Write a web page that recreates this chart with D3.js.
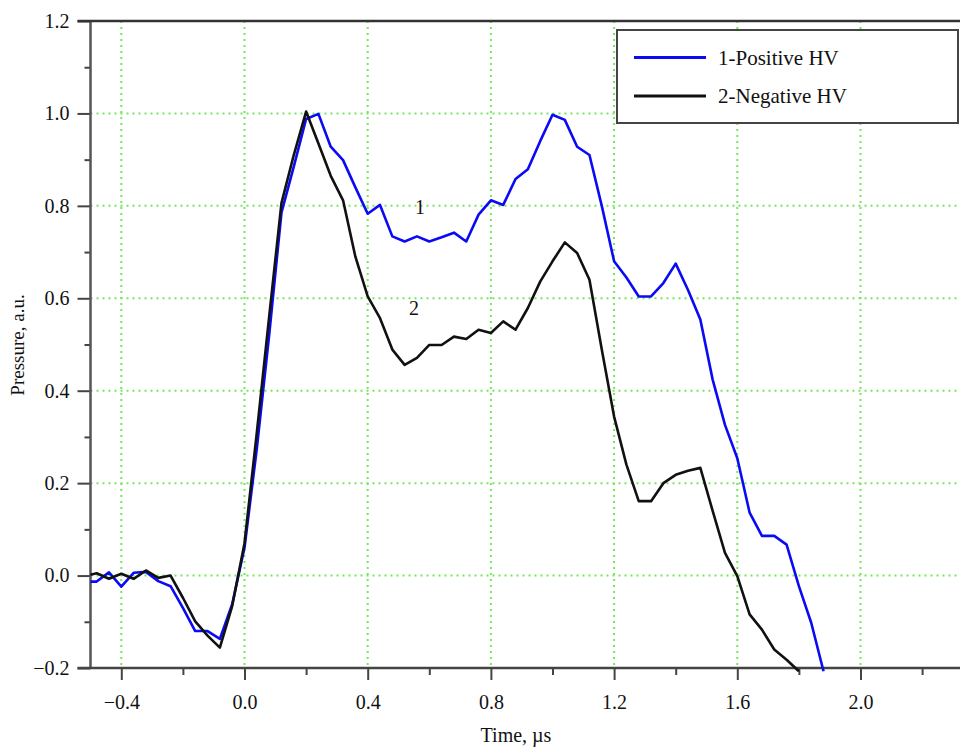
<!DOCTYPE html>
<html>
<head>
<meta charset="utf-8">
<script src="https://cdn.jsdelivr.net/npm/d3@7/dist/d3.min.js"></script>
<style>
  html, body { margin: 0; padding: 0; background: #fff; }
  svg { display: block; }
  text { font-family: "Liberation Serif", "Times New Roman", serif; fill: #111; }
</style>
</head>
<body>
<svg id="chart" width="960" height="747"></svg>
<script>
// Sample times (µs)
const time = [
  -0.50, -0.48, -0.44, -0.40, -0.36, -0.32, -0.28, -0.24, -0.20, -0.16,
  -0.12, -0.08, -0.04, 0.00, 0.04, 0.08, 0.12, 0.16, 0.20, 0.24,
  0.28, 0.32, 0.36, 0.40, 0.44, 0.48, 0.52, 0.56, 0.60, 0.64,
  0.68, 0.72, 0.76, 0.80, 0.84, 0.88, 0.92, 0.96, 1.00, 1.04,
  1.08, 1.12, 1.16, 1.20, 1.24, 1.28, 1.32, 1.36, 1.40, 1.44,
  1.48, 1.52, 1.56, 1.60, 1.64, 1.68, 1.72, 1.76, 1.80, 1.84, 1.88
];

// 1 - Positive HV
const positiveHV = [
  -0.013, -0.013, 0.007, -0.024, 0.006, 0.008, -0.012, -0.023, -0.070, -0.120,
  -0.120, -0.137, -0.062, 0.060, 0.275, 0.520, 0.785, 0.885, 0.988, 0.999,
  0.928, 0.899, 0.840, 0.783, 0.802, 0.734, 0.723, 0.734, 0.723, 0.732,
  0.742, 0.723, 0.781, 0.812, 0.802, 0.858, 0.879, 0.940, 0.997, 0.986,
  0.928, 0.910, 0.800, 0.680, 0.645, 0.604, 0.604, 0.633, 0.675, 0.618,
  0.554, 0.424, 0.326, 0.254, 0.136, 0.086, 0.086, 0.067, -0.023, -0.102, -0.207
];

// 2 - Negative HV (last point at 1.80)
const negativeHV = [
  0.002, 0.005, -0.007, 0.004, -0.007, 0.011, -0.005, 0.000, -0.048, -0.099,
  -0.130, -0.156, -0.066, 0.070, 0.309, 0.560, 0.806, 0.910, 1.004, 0.935,
  0.865, 0.812, 0.690, 0.604, 0.557, 0.489, 0.456, 0.471, 0.499, 0.499,
  0.517, 0.512, 0.532, 0.525, 0.550, 0.532, 0.579, 0.636, 0.680, 0.721,
  0.698, 0.640, 0.489, 0.344, 0.240, 0.161, 0.161, 0.200, 0.218, 0.227,
  0.233, 0.140, 0.049, -0.001, -0.084, -0.117, -0.160, -0.182, -0.207
];

const xMajorTicks = [-0.4, 0.0, 0.4, 0.8, 1.2, 1.6, 2.0];
const xMinorTicks = [-0.2, 0.2, 0.6, 1.0, 1.4, 1.8, 2.2];
const yMajorTicks = [-0.2, 0.0, 0.2, 0.4, 0.6, 0.8, 1.0, 1.2];
const yMinorTicks = [-0.1, 0.1, 0.3, 0.5, 0.7, 0.9, 1.1];
const xGrid = [-0.4, 0.0, 0.4, 0.8, 1.2, 1.6, 2.0];
const yGrid = [0.0, 0.2, 0.4, 0.6, 0.8, 1.0];

const seriesNames = ["1-Positive HV", "2-Negative HV"];
const seriesColors = ["#0a0af5", "#111111"];
const curveLabels = [
  { text: "1", t: 0.57, p: 0.797 },
  { text: "2", t: 0.55, p: 0.58 }
];

const svg = d3.select("#chart");

const x = d3.scaleLinear().domain([-0.5, 2.4]).range([90.5, 983.7]);
const y = d3.scaleLinear().domain([-0.2, 1.2]).range([668, 21]);

const fmt = d => (d < 0 ? "\u2212" : "") + d3.format(".1f")(Math.abs(d));

// grid
const grid = svg.append("g").attr("stroke", "#74e85a").attr("stroke-width", 2)
  .attr("stroke-dasharray", "2,4");
grid.selectAll("line.gx").data(xGrid).join("line")
  .attr("x1", d => x(d)).attr("x2", d => x(d)).attr("y1", y(1.2)).attr("y2", y(-0.2));
grid.selectAll("line.gy").data(yGrid).join("line")
  .attr("x1", x(-0.5)).attr("x2", 960).attr("y1", d => y(d)).attr("y2", d => y(d));

// axes
const xAxis = d3.axisBottom(x).tickValues(xMajorTicks).tickSize(12).tickPadding(15).tickFormat(fmt);
const gx = svg.append("g").attr("transform", `translate(0,${y(-0.2)})`).call(xAxis);
gx.select(".domain").remove();
gx.selectAll(".tick line").attr("stroke", "#444").attr("stroke-width", 2);
gx.selectAll(".tick text").attr("font-size", 20).attr("font-family", "Liberation Serif");

const xMinor = d3.axisBottom(x).tickValues(xMinorTicks).tickSize(7).tickFormat("");
const gxm = svg.append("g").attr("transform", `translate(0,${y(-0.2)})`).call(xMinor);
gxm.select(".domain").remove();
gxm.selectAll(".tick line").attr("stroke", "#444").attr("stroke-width", 2);

const yAxis = d3.axisLeft(y).tickValues(yMajorTicks).tickSize(13).tickPadding(8).tickFormat(fmt);
const gy = svg.append("g").attr("transform", `translate(${x(-0.5)},0)`).call(yAxis);
gy.select(".domain").remove();
gy.selectAll(".tick line").attr("stroke", "#444").attr("stroke-width", 2);
gy.selectAll(".tick text").attr("font-size", 20).attr("font-family", "Liberation Serif");

const yMinor = d3.axisLeft(y).tickValues(yMinorTicks).tickSize(6).tickFormat("");
const gym = svg.append("g").attr("transform", `translate(${x(-0.5)},0)`).call(yMinor);
gym.select(".domain").remove();
gym.selectAll(".tick line").attr("stroke", "#444").attr("stroke-width", 2);

// frame lines
svg.append("line").attr("x1", x(-0.5)).attr("x2", x(-0.5)).attr("y1", y(1.2)).attr("y2", y(-0.2))
  .attr("stroke", "#555").attr("stroke-width", 2.5);
svg.append("line").attr("x1", x(-0.5) - 13).attr("x2", 960).attr("y1", y(1.2)).attr("y2", y(1.2))
  .attr("stroke", "#333").attr("stroke-width", 2.5);
svg.append("line").attr("x1", x(-0.5) - 13).attr("x2", 960).attr("y1", y(-0.2)).attr("y2", y(-0.2))
  .attr("stroke", "#444").attr("stroke-width", 2.5);

// curves
const line = d3.line().x(d => x(d[0])).y(d => y(d[1]));
const seriesData = [
  time.slice(0, positiveHV.length).map((t, i) => [t, positiveHV[i]]),
  time.slice(0, negativeHV.length).map((t, i) => [t, negativeHV[i]])
];
svg.selectAll("path.curve").data(seriesData).join("path")
  .attr("class", "curve")
  .attr("d", line)
  .attr("fill", "none")
  .attr("stroke", (d, i) => seriesColors[i])
  .attr("stroke-width", 2.6)
  .attr("stroke-linejoin", "round");

// curve labels
svg.selectAll("text.clabel").data(curveLabels).join("text")
  .attr("class", "clabel")
  .attr("x", d => x(d.t)).attr("y", d => y(d.p))
  .attr("text-anchor", "middle").attr("dominant-baseline", "central")
  .attr("font-size", 20).text(d => d.text);

// legend
const lg = svg.append("g");
lg.append("rect").attr("x", 617).attr("y", 30).attr("width", 341).attr("height", 93)
  .attr("fill", "#fff").attr("stroke", "#444").attr("stroke-width", 2);
seriesNames.forEach((name, i) => {
  const yy = 57.5 + i * 38.5;
  lg.append("line").attr("x1", 634).attr("x2", 706).attr("y1", yy).attr("y2", yy)
    .attr("stroke", seriesColors[i]).attr("stroke-width", 3.2);
  lg.append("text").attr("x", 718).attr("y", yy).attr("dominant-baseline", "central")
    .attr("font-size", 21).text(name);
});

// axis titles
svg.append("text").attr("x", 516).attr("y", 735).attr("text-anchor", "middle")
  .attr("dominant-baseline", "central").attr("font-size", 20).text("Time, \u00b5s");
svg.append("text").attr("transform", "translate(17,345) rotate(-90)")
  .attr("text-anchor", "middle").attr("dominant-baseline", "central")
  .attr("font-size", 19).text("Pressure, a.u.");
</script>
</body>
</html>
